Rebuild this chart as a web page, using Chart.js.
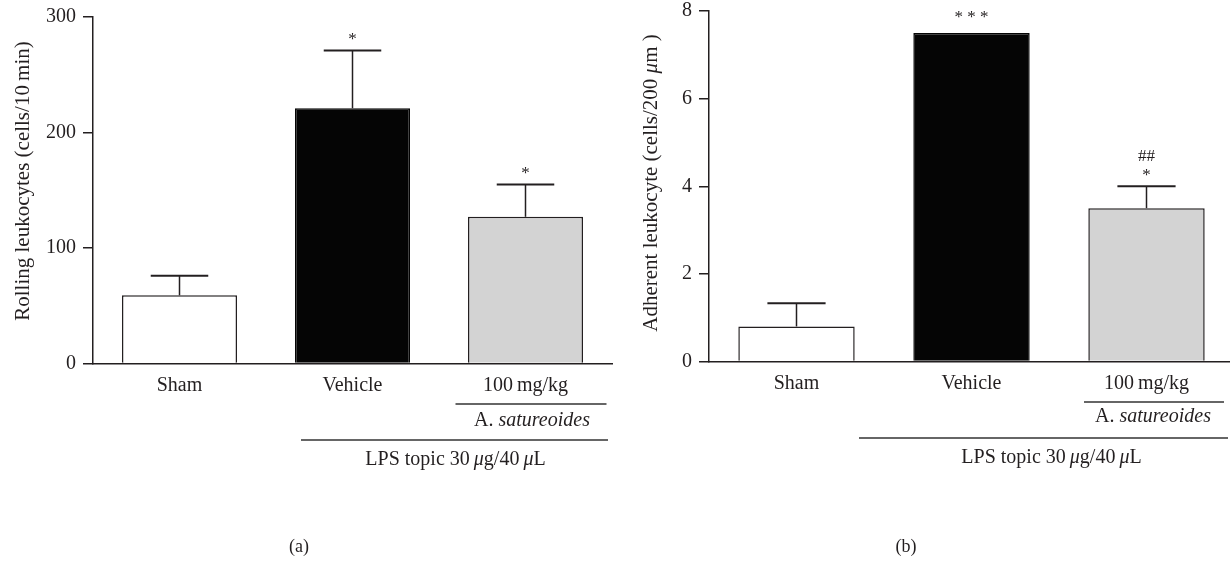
<!DOCTYPE html>
<html><head><meta charset="utf-8">
<script src="https://cdn.jsdelivr.net/npm/chart.js@4.4.1/dist/chart.umd.min.js"></script>
<style>
html,body{margin:0;padding:0;background:#fff;overflow:hidden;width:1230px;height:567px;}
#wrap{position:relative;width:1230px;height:567px;overflow:hidden;background:#fff;}
#c1{position:absolute;left:0;top:0;}
#c2{position:absolute;left:616px;top:0;}
.pl{position:absolute;font-family:"Liberation Serif",serif;font-size:18px;color:#231f20;transform:translate(-50%,-50%);white-space:nowrap;}
</style></head><body>
<div id="wrap">
<canvas id="c1" width="615" height="567"></canvas>
<canvas id="c2" width="618" height="567"></canvas>
<div class="pl" style="left:299px;top:546px">(a)</div>
<div class="pl" style="left:906px;top:546px">(b)</div>
</div>
<script>
// ---- data ----
const categories = ['Sham', 'Vehicle', '100\u2009mg/kg'];
const rollingMeans = [59, 221, 127];
const rollingErrTop = [76, 271, 155];
const rollingMarks = [[], ['*'], ['*']];
const rollingTicks = [0, 100, 200, 300];
const adherentMeans = [0.8, 7.5, 3.5];
const adherentErrTop = [1.33, null, 4.0];
const adherentMarks = [[], ['* * *'], ['##', '*']];
const adherentTicks = [0, 2, 4, 6, 8];

const INK = '#231f20';
const FONT = '"Liberation Serif", serif';
const barFill = ['#ffffff', '#050505', '#d3d3d3'];
const barEdge = ['#231f20', '#050505', '#231f20'];

function drawSegs(ctx, segs, cx, cy, size, rotate) {
  ctx.save();
  ctx.translate(cx, cy);
  if (rotate) ctx.rotate(-Math.PI / 2);
  const fonts = segs.map(s => (s[1] ? 'italic ' : '') + size + 'px ' + FONT);
  let total = 0;
  segs.forEach((s, i) => { ctx.font = fonts[i]; total += ctx.measureText(s[0]).width; });
  let x = -total / 2;
  ctx.textBaseline = 'middle';
  ctx.textAlign = 'left';
  ctx.fillStyle = INK;
  segs.forEach((s, i) => { ctx.font = fonts[i]; ctx.fillText(s[0], x, 0); x += ctx.measureText(s[0]).width; });
  ctx.restore();
}

function makeAnnot(opts) {
  return {
    id: 'annot',
    afterDatasetsDraw(chart) {
      const ctx = chart.ctx;
      const xs = chart.scales.x, ys = chart.scales.y;
      const meta = chart.getDatasetMeta(0);
      // error bars
      ctx.save();
      ctx.strokeStyle = INK;
      opts.err.forEach((e, i) => {
        if (e == null) return;
        const bar = meta.data[i];
        const yt = ys.getPixelForValue(e);
        const yb = ys.getPixelForValue(opts.means[i]);
        ctx.lineWidth = 1.5;
        ctx.beginPath(); ctx.moveTo(bar.x, yb); ctx.lineTo(bar.x, yt); ctx.stroke();
        ctx.lineWidth = 2;
        const h = bar.width / 4;
        ctx.beginPath(); ctx.moveTo(bar.x - h, yt); ctx.lineTo(bar.x + h, yt); ctx.stroke();
      });
      ctx.restore();
      // significance marks
      opts.marks.forEach((list, i) => {
        const bar = meta.data[i];
        const top = opts.err[i] != null ? ys.getPixelForValue(opts.err[i]) : ys.getPixelForValue(opts.means[i]);
        list.slice().reverse().forEach((m, k) => {
          const isStar = m.indexOf('*') >= 0;
          const size = 17;
          const gap = (opts.err[i] != null ? 14 : 19) + k * 17;
          const cy = top - gap;
          ctx.save();
          ctx.font = size + 'px ' + FONT;
          ctx.fillStyle = INK;
          ctx.textAlign = 'center';
          ctx.textBaseline = 'alphabetic';
          ctx.fillText(m, bar.x, cy + (isStar ? 0.46 : 0.34) * size);
          ctx.restore();
        });
      });
      // group annotations
      const c1 = xs.getPixelForValue(1), c2 = xs.getPixelForValue(2);
      ctx.save();
      ctx.strokeStyle = '#333';
      ctx.lineWidth = 1.5;
      ctx.beginPath(); ctx.moveTo(c2 + opts.ul[0], opts.ulY); ctx.lineTo(c2 + opts.ul[1], opts.ulY); ctx.stroke();
      ctx.beginPath(); ctx.moveTo(c1 + opts.lps[0], opts.lpsY); ctx.lineTo(c2 + opts.lps[1], opts.lpsY); ctx.stroke();
      ctx.restore();
      drawSegs(ctx, [['A. ', false], ['satureoides', true]], c2 + 6.5, opts.asY, 20, false);
      const lx = ((c1 + opts.lps[0]) + (c2 + opts.lps[1])) / 2 + opts.lpsShift;
      drawSegs(ctx, [['LPS topic 30\u2009', false], ['\u03bc', true], ['g/40\u2009', false], ['\u03bc', true], ['L', false]], lx, opts.lpsTY, 20, false);
      // y title
      drawSegs(ctx, opts.title, opts.titleX, opts.titleY, 21, true);
    }
  };
}

function makeChart(id, means, ticks, o) {
  return new Chart(document.getElementById(id), {
    type: 'bar',
    data: {
      labels: categories,
      datasets: [{
        data: means,
        backgroundColor: barFill,
        borderColor: barEdge,
        borderWidth: 1.5,
        barPercentage: 0.665,
        categoryPercentage: 1
      }]
    },
    options: {
      responsive: false,
      animation: false,
      devicePixelRatio: 1,
      layout: { padding: { left: 0, right: o.padRight, top: o.padTop, bottom: 0 } },
      plugins: { legend: { display: false }, tooltip: { enabled: false }, title: { display: false } },
      scales: {
        x: {
          afterFit: s => { s.height = o.xHeight; s.paddingLeft = 0; s.paddingRight = 0; },
          grid: { display: false },
          border: { display: true, color: INK, width: 1.5 },
          ticks: { font: { family: FONT, size: 20 }, color: INK, padding: 2, maxRotation: 0 }
        },
        y: {
          min: ticks[0], max: ticks[ticks.length - 1],
          afterFit: s => { s.width = 93; s.paddingTop = 0; s.paddingBottom = 0; },
          afterBuildTicks: s => { s.ticks = ticks.map(v => ({ value: v })); },
          grid: { drawOnChartArea: false, drawTicks: true, tickLength: 10, color: INK, lineWidth: 1.5 },
          border: { display: true, color: INK, width: 1.5 },
          ticks: { font: { family: FONT, size: 20 }, color: INK, padding: 7 }
        }
      }
    },
    plugins: [makeAnnot(o)]
  });
}

makeChart('c1', rollingMeans, rollingTicks, {
  padRight: 3, padTop: 17, xHeight: 567 - 363.5,
  means: rollingMeans, err: rollingErrTop, marks: rollingMarks,
  ul: [-70, 81], ulY: 404, asY: 421, lps: [-51.5, 82.5], lpsY: 440, lpsTY: 460, lpsShift: 1,
  title: [['Rolling leukocytes (cells/10\u2009min)', false]], titleX: 23, titleY: 181
});
makeChart('c2', adherentMeans, adherentTicks, {
  padRight: 0, padTop: 11, xHeight: 567 - 361.5,
  means: adherentMeans, err: adherentErrTop, marks: adherentMarks,
  ul: [-62.5, 77.5], ulY: 402, asY: 417, lps: [-112.5, 81.5], lpsY: 438, lpsTY: 458, lpsShift: 8,
  title: [['Adherent leukocyte (cells/200 ', false], ['\u03bc', true], ['m )', false]], titleX: 35, titleY: 183
});
</script>
</body></html>
